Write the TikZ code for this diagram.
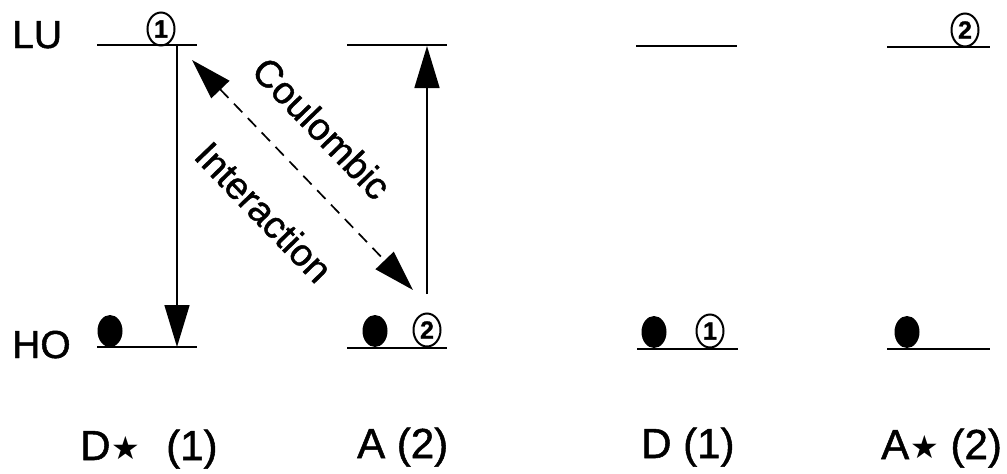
\documentclass[tikz,border=0pt]{standalone}
\usepackage{fontspec}
\setmainfont{Liberation Sans}[FakeBold=1.2]
\newfontfamily\dejavu{DejaVu Sans}
\usetikzlibrary{arrows.meta,shapes.geometric}
\newcommand{\strsym}{\hspace{1pt}\raisebox{1pt}{\fontsize{32}{32}\dejavu ★}}
\begin{document}
\begin{tikzpicture}[x=1pt,y=-1pt,
  level/.style={line width=2.9pt},
  trans/.style={line width=1.6pt,-{Triangle[length=42pt,width=25pt]}},
  coul/.style={line width=1.7pt,dash pattern=on 12pt off 8pt,{Triangle[length=41pt,width=25pt]}-{Triangle[length=41pt,width=25pt]}},
  elec/.style={fill=black,ellipse,inner sep=0pt,minimum width=25pt,minimum height=32pt},
  hole/.style={draw,line width=2pt,ellipse,inner sep=0pt,minimum width=27pt,minimum height=33pt,font=\fontsize{25}{25}\selectfont\bfseries},
  side/.style={font=\fontsize{39}{44}\selectfont,anchor=base west,inner sep=0pt},
  lab/.style={font=\fontsize{42}{48}\selectfont,anchor=base west,inner sep=0pt},
  rot/.style={font=\fontsize{38}{42}\selectfont,rotate=-46,inner sep=0pt}]
\useasboundingbox (0,0) rectangle (1007,474);
% level lines
\coordinate (l1a) at (97,45);  \coordinate (l1b) at (197,45);
\coordinate (h1a) at (97,347); \coordinate (h1b) at (197,347);
\coordinate (l2a) at (347,45);  \coordinate (l2b) at (447,45);
\coordinate (h2a) at (347,348); \coordinate (h2b) at (447,348);
\coordinate (l3a) at (636,46);  \coordinate (l3b) at (737,46);
\coordinate (h3a) at (637,349); \coordinate (h3b) at (738,349);
\coordinate (l4a) at (887,47);  \coordinate (l4b) at (990,47);
\coordinate (h4a) at (887,349); \coordinate (h4b) at (990,349);
\draw[level] (l1a) -- (l1b); \draw[level] (h1a) -- (h1b);
\draw[level] (l2a) -- (l2b); \draw[level] (h2a) -- (h2b);
\draw[level] (l3a) -- (l3b); \draw[level] (h3a) -- (h3b);
\draw[level] (l4a) -- (l4b); \draw[level] (h4a) -- (h4b);
% side labels
\node[side] (LU) at (12,48) {LU};
\node[side] (HO) at (12,358) {HO};
% electrons and holes
\node[elec] (e1) at (110,331) {};
\node[elec] (e2) at (375,331) {};
\node[elec] (e3) at (654,332) {};
\node[elec] (e4) at (907,332) {};
\node[hole] (c1) at (161,29) {1};
\node[hole] (c2) at (427,330) {2};
\node[hole] (c3) at (710,331) {1};
\node[hole] (c4) at (965,30) {2};
% transitions
\coordinate (t1s) at (177,45);  \coordinate (t1e) at (177,347);
\coordinate (t2s) at (427,294); \coordinate (t2e) at (427,46);
\draw[trans] (t1s) -- (t1e);
\draw[trans] (t2s) -- (t2e);
% coulombic interaction
\coordinate (dtop) at (192,60);
\coordinate (dbot) at (413,290);
\draw[coul] (dtop) -- (dbot);
\node[rot] (tc) at (322,128) {Coulombic};
\node[rot] (ti) at (264,212) {Interaction};
% bottom labels
\node[lab] (L1) at (80,460) {D\strsym\hspace{26pt}(1)};
\node[lab] (L2) at (357,458) {A (2)};
\node[lab] (L3) at (641,458) {D (1)};
\node[lab] (L4) at (881,459) {A\strsym\ (2)};
\end{tikzpicture}
\end{document}
